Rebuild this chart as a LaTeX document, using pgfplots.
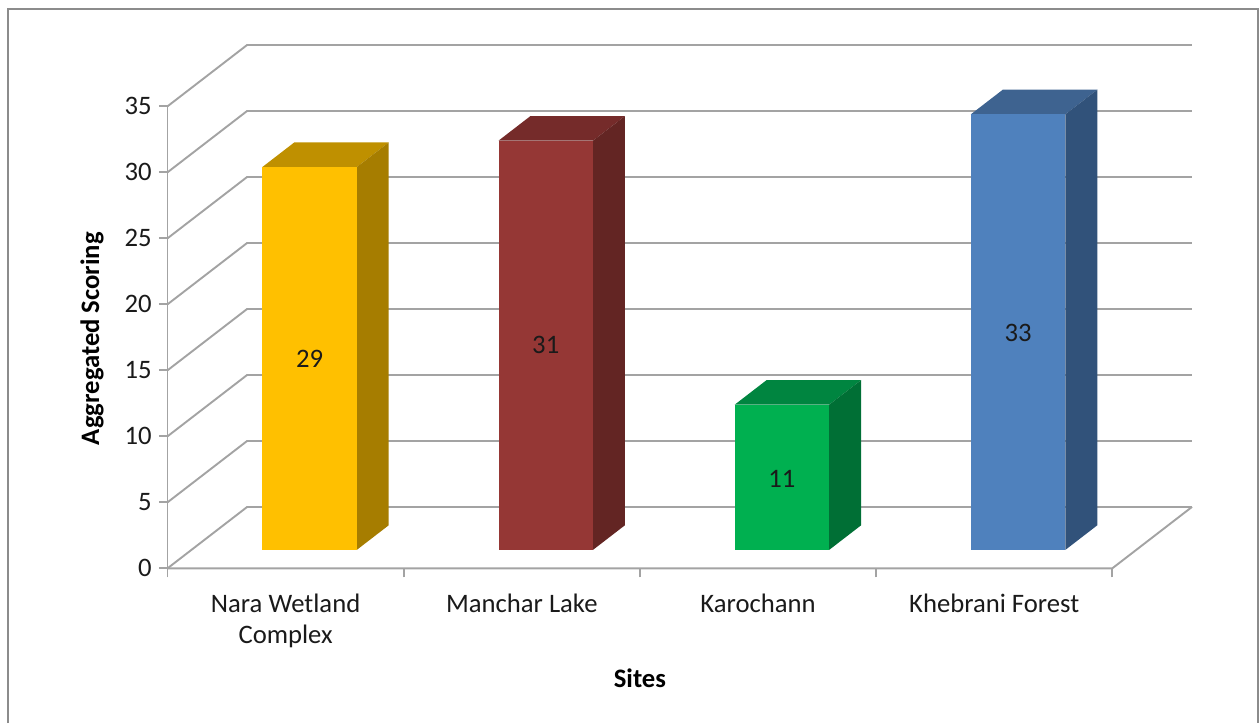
\documentclass[border=0pt]{standalone}
\usepackage{pgfplots}
\pgfplotsset{compat=1.18}
\usepackage{fontspec}
\setmainfont{Carlito}
\definecolor{gridc}{HTML}{A3A3A3}
\definecolor{framec}{HTML}{8C8C8C}
\definecolor{txt}{HTML}{1A1A1A}
\definecolor{yellowF}{HTML}{FFC000}
\definecolor{yellowT}{HTML}{BF9000}
\definecolor{yellowS}{HTML}{A67D00}
\definecolor{redF}{HTML}{953735}
\definecolor{redT}{HTML}{752B2A}
\definecolor{redS}{HTML}{632523}
\definecolor{greenF}{HTML}{00B050}
\definecolor{greenT}{HTML}{008540}
\definecolor{greenS}{HTML}{006F35}
\definecolor{blueF}{HTML}{4F81BD}
\definecolor{blueT}{HTML}{3E6390}
\definecolor{blueS}{HTML}{31527A}
\newcommand{\chartfont}{\fontsize{16}{18.6}\selectfont}
% x0, x1, value, colour prefix
\newcommand{\barcube}[4]{
  \addplot3[fill=#4T,draw=none] coordinates {(#1,0.3,#3) (#2,0.3,#3) (#2,0.7,#3) (#1,0.7,#3)};
  \addplot3[fill=#4S,draw=none] coordinates {(#2,0.3,0) (#2,0.7,0) (#2,0.7,#3) (#2,0.3,#3)};
  \addplot3[fill=#4F,draw=none] coordinates {(#1,0.3,0) (#2,0.3,0) (#2,0.3,#3) (#1,0.3,#3)};
}
\begin{document}
\begin{tikzpicture}
\path (0,0) rectangle (755.4pt,433.8pt);
\begin{axis}[
  at={(100.5pt,92.8pt)},
  anchor=origin,
  x={(141.72pt,0pt)},
  y={(47.88pt,36.9pt)},
  z={(0pt,7.92pt)},
  xmin=0, xmax=4,
  ymin=0, ymax=1,
  zmin=0, zmax=35,
  clip=false,
  axis line style={draw=none},
  major tick length=0pt,
  xtick={0.5,1.5,2.5,3.5},
  xticklabels={{Nara Wetland\\Complex},{Manchar Lake},{Karochann},{Khebrani Forest}},
  ytick=\empty,
  ztick={0,5,...,35},
  zmajorgrids=true,
  major grid style={gridc,line width=1.15pt},
  tick label style={font=\chartfont,text=txt},
  x tick label style={align=center,anchor=north,yshift=-12pt},
  z tick label style={anchor=east,xshift=-6pt},
  /pgf/number format/assume math mode=true,
  xlabel={\textbf{Sites}},
  zlabel={\textbf{Aggregated Scoring}},
  label style={font=\chartfont,text=black},
  xlabel style={at={(axis cs:2,0,-8.3)},anchor=center},
  zlabel style={at={(axis cs:-0.32,0,17.4)},anchor=center},
]
% axis lines and tick marks
\addplot3[gridc,line width=1.15pt] coordinates {(0,0,0) (0,0,35)};
\addplot3[gridc,line width=1.15pt] coordinates {(0,0,0) (4,0,0) (4,1,0)};
\pgfplotsinvokeforeach{0,5,...,35}{
  \addplot3[gridc,line width=1.15pt] coordinates {(-0.036,0,#1) (0,0,#1)};
}
\pgfplotsinvokeforeach{0,1,2,3,4}{
  \addplot3[gridc,line width=1.15pt] coordinates {(#1,0,-0.68) (#1,0,0)};
}
\barcube{0.3}{0.7}{29}{yellow}
\barcube{1.3}{1.7}{31}{red}
\barcube{2.3}{2.7}{11}{green}
\barcube{3.3}{3.7}{33}{blue}
\node[font=\chartfont,text=txt] at (axis cs:0.5,0.3,14.5) {29};
\node[font=\chartfont,text=txt] at (axis cs:1.5,0.3,15.5) {31};
\node[font=\chartfont,text=txt] at (axis cs:2.5,0.3,5.4) {11};
\node[font=\chartfont,text=txt] at (axis cs:3.5,0.3,16.4) {33};
\end{axis}
\draw[framec,line width=1.2pt] (4.8pt,0pt) -- (4.8pt,428.4pt) -- (754.8pt,428.4pt) -- (754.8pt,0pt);
\end{tikzpicture}
\end{document}
